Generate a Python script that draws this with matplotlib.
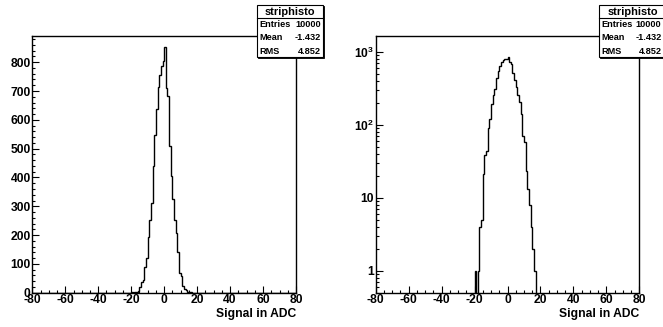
import numpy as np
import matplotlib
matplotlib.use('Agg')
import matplotlib.pyplot as plt
from matplotlib.patches import Rectangle
from matplotlib.ticker import MultipleLocator, LogLocator, FuncFormatter, NullFormatter

plt.rcParams['font.family'] = ['Liberation Sans', 'DejaVu Sans']
plt.rcParams['font.weight'] = 'bold'
plt.rcParams['axes.unicode_minus'] = False
plt.rcParams['mathtext.fontset'] = 'custom'
plt.rcParams['mathtext.rm'] = 'Liberation Sans:bold'
plt.rcParams['mathtext.it'] = 'Liberation Sans:bold'
plt.rcParams['mathtext.bf'] = 'Liberation Sans:bold'

# strip signal histogram, 1 ADC wide bins between -80 and 80
x_min, x_max = -80, 80
first_bin = -20  # low edge of the first filled bin below
counts = [1, 0, 1, 4, 5, 21, 38, 44, 90, 119, 192, 252, 310, 441, 547, 638, 713,
          756, 788, 804, 852,
          709, 684, 510, 406, 325, 252, 206, 142, 69, 58, 23, 13, 8, 4, 2, 1]
stats_title = 'striphisto'
stats_names = ['Entries', 'Mean', 'RMS']
stats_values = ['10000', '-1.432', '4.852']
xlabel = 'Signal in ADC'

edges = np.arange(x_min, x_max + 1)
hist = np.zeros(len(edges) - 1)
start = first_bin - x_min
hist[start:start + len(counts)] = counts

W, H = 663, 327
fig = plt.figure(figsize=(W / 100, H / 100), dpi=100)


def px_axes(x0, x1, y0, y1):
    # pixel box (from top-left) -> figure fraction
    return fig.add_axes([x0 / W, 1 - y1 / H, (x1 - x0) / W, (y1 - y0) / H])


def stats_box(x0, y0, w, h, val_right):
    fx = lambda x: x / W
    fy = lambda y: 1 - y / H
    shadow = Rectangle((fx(x0 + 1), fy(y0 + h + 1)), w / W, h / H,
                       transform=fig.transFigure, facecolor='black',
                       edgecolor='black', lw=0.6, zorder=9)
    box = Rectangle((fx(x0), fy(y0 + h)), w / W, h / H, transform=fig.transFigure,
                    facecolor='white', edgecolor='black', lw=0.8, zorder=10)
    fig.add_artist(shadow)
    fig.add_artist(box)
    fig.add_artist(plt.Line2D([fx(x0), fx(x0 + w)], [fy(y0 + 13.3)] * 2,
                              transform=fig.transFigure, color='black', lw=0.8, zorder=11))
    fig.text(fx(x0 + w / 2), fy(y0 + 6.8), stats_title, ha='center', va='center',
             fontsize=7.9, fontweight='bold', zorder=12)
    for i, (n, v) in enumerate(zip(stats_names, stats_values)):
        y = y0 + 19.7 + i * 13.2
        fig.text(fx(x0 + 2.5), fy(y), n, ha='left', va='center', fontsize=6.6,
                 fontweight='bold', zorder=12)
        fig.text(fx(val_right), fy(y), v, ha='right', va='center', fontsize=6.6,
                 fontweight='bold', zorder=12)


ax1 = px_axes(32.3, 296, 35.7, 292.7)
ax2 = px_axes(375.7, 639.3, 35.7, 292.7)

# linear
ax1.stairs(hist, edges, color='black', lw=1.0)
ax1.set_ylim(0, 892)
ax1.yaxis.set_major_locator(MultipleLocator(100))
ax1.yaxis.set_minor_locator(MultipleLocator(20))

# log, empty bins drop to the frame bottom
ax2.stairs(np.where(hist > 0, hist, 1e-3), edges, baseline=None, color='black', lw=1.0)
ax2.set_yscale('log')
ax2.set_ylim(0.5, 1650)
ax2.yaxis.set_major_locator(LogLocator(base=10))
ax2.yaxis.set_minor_locator(LogLocator(base=10, subs=np.arange(2, 10)))
ax2.yaxis.set_minor_formatter(NullFormatter())
ax2.yaxis.set_major_formatter(FuncFormatter(
    lambda v, p: '1' if v == 1 else ('10' if v == 10 else r'$10^{%d}$' % round(np.log10(v)))))

for ax in (ax1, ax2):
    ax.set_xlim(x_min, x_max)
    ax.xaxis.set_major_locator(MultipleLocator(20))
    ax.xaxis.set_minor_locator(MultipleLocator(5))
    ax.tick_params(which='both', direction='in', top=False, right=False,
                   labelsize=8.7, width=0.8)
    ax.tick_params(which='major', length=5)
    ax.tick_params(which='minor', length=2.5)
    ax.tick_params(axis='x', pad=1.2)
    ax.tick_params(axis='y', pad=1.2)
    for s in ax.spines.values():
        s.set_linewidth(1.0)
    ax.set_xlabel(xlabel, fontsize=8.7, fontweight='bold', loc='right', labelpad=1.5)

stats_box(256.7, 5, 66.6, 52.3, 321)
stats_box(599.3, 5, 66.6, 52.3, 661.5)

fig.savefig('out.png', dpi=100)
